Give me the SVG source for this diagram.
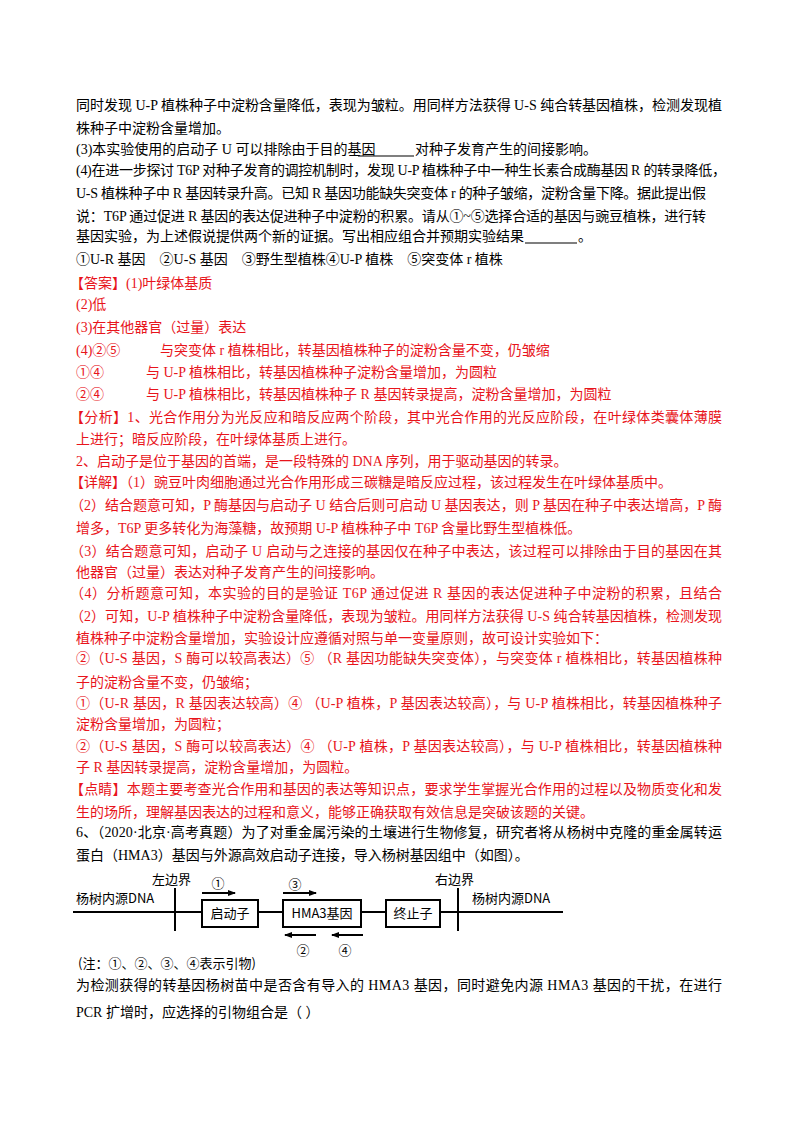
<svg xmlns="http://www.w3.org/2000/svg" width="800" height="1132" viewBox="0 0 800 1132">
<style>
text{font-family:"Liberation Serif","Noto Sans CJK SC",serif;font-size:14px;fill:#000}
.r{fill:#e8141b}
.d{font-family:"Noto Sans CJK SC","Liberation Sans",sans-serif;font-size:13px}
.ln{stroke:#000;stroke-width:2;fill:none}
.bx{stroke:#000;stroke-width:2;fill:#fff}
</style>
<defs><marker id="ah" markerWidth="8" markerHeight="8" refX="7" refY="4" orient="auto" markerUnits="userSpaceOnUse"><path d="M0,1 L8,4 L0,7 z" fill="#000"/></marker></defs>
<rect width="800" height="1132" fill="#fff"/>
<g id="text">
<text x="76" y="110" textLength="646" lengthAdjust="spacing">同时发现 U-P 植株种子中淀粉含量降低，表现为皱粒。用同样方法获得 U-S 纯合转基因植株，检测发现植</text>
<text x="76" y="133">株种子中淀粉含量增加。</text>
<text x="76" y="154">(3)本实验使用的启动子 U 可以排除由于目的基因</text>
<line x1="358" y1="156" x2="414" y2="156" stroke="#000" stroke-width="1.2"/>
<text x="415" y="154">对种子发育产生的间接影响。</text>
<text x="76" y="175" textLength="650" lengthAdjust="spacing">(4)在进一步探讨 T6P 对种子发育的调控机制时，发现 U-P 植株种子中一种生长素合成酶基因 R 的转录降低，</text>
<text x="76" y="198" textLength="630" lengthAdjust="spacing">U-S 植株种子中 R 基因转录升高。已知 R 基因功能缺失突变体 r 的种子皱缩，淀粉含量下降。据此提出假</text>
<text x="76" y="221" textLength="630" lengthAdjust="spacing">说：T6P 通过促进 R 基因的表达促进种子中淀粉的积累。请从①~⑤选择合适的基因与豌豆植株，进行转</text>
<text x="76" y="241">基因实验，为上述假说提供两个新的证据。写出相应组合并预期实验结果</text>
<line x1="525" y1="243" x2="577" y2="243" stroke="#000" stroke-width="1.2"/>
<text x="578" y="241">。</text>
<text x="76" y="264" xml:space="preserve">①U-R 基因    ②U-S 基因    ③野生型植株④U-P 植株    ⑤突变体 r 植株</text>
</g>
<g id="answer">
<text class="r" x="70" y="288">【答案】(1)叶绿体基质</text>
<text class="r" x="76" y="309">(2)低</text>
<text class="r" x="76" y="332">(3)在其他器官（过量）表达</text>
<text class="r" x="76" y="355">(4)②⑤</text>
<text class="r" x="160" y="355">与突变体 r 植株相比，转基因植株种子的淀粉含量不变，仍皱缩</text>
<text class="r" x="76" y="377">①④</text>
<text class="r" x="146" y="377">与 U-P 植株相比，转基因植株种子淀粉含量增加，为圆粒</text>
<text class="r" x="76" y="399">②④</text>
<text class="r" x="146" y="399">与 U-P 植株相比，转基因植株种子 R 基因转录提高，淀粉含量增加，为圆粒</text>
<text class="r" x="70" y="422" textLength="652" lengthAdjust="spacing">【分析】1、光合作用分为光反应和暗反应两个阶段，其中光合作用的光反应阶段，在叶绿体类囊体薄膜</text>
<text class="r" x="76" y="444">上进行；暗反应阶段，在叶绿体基质上进行。</text>
<text class="r" x="76" y="466">2、启动子是位于基因的首端，是一段特殊的 DNA 序列，用于驱动基因的转录。</text>
<text class="r" x="70" y="487">【详解】（1）豌豆叶肉细胞通过光合作用形成三碳糖是暗反应过程，该过程发生在叶绿体基质中。</text>
<text class="r" x="70" y="510" textLength="652" lengthAdjust="spacing">（2）结合题意可知，P 酶基因与启动子 U 结合后则可启动 U 基因表达，则 P 基因在种子中表达增高，P 酶</text>
<text class="r" x="76" y="533">增多，T6P 更多转化为海藻糖，故预期 U-P 植株种子中 T6P 含量比野生型植株低。</text>
<text class="r" x="70" y="556" textLength="652" lengthAdjust="spacing">（3）结合题意可知，启动子 U 启动与之连接的基因仅在种子中表达，该过程可以排除由于目的基因在其</text>
<text class="r" x="76" y="577">他器官（过量）表达对种子发育产生的间接影响。</text>
<text class="r" x="70" y="598" textLength="652" lengthAdjust="spacing">（4）分析题意可知，本实验的目的是验证 T6P 通过促进 R 基因的表达促进种子中淀粉的积累，且结合</text>
<text class="r" x="70" y="621" textLength="652" lengthAdjust="spacing">（2）可知，U-P 植株种子中淀粉含量降低，表现为皱粒。用同样方法获得 U-S 纯合转基因植株，检测发现</text>
<text class="r" x="76" y="643">植株种子中淀粉含量增加，实验设计应遵循对照与单一变量原则，故可设计实验如下：</text>
<text class="r" x="76" y="663" textLength="646" lengthAdjust="spacing">②（U-S 基因，S 酶可以较高表达）⑤ （R 基因功能缺失突变体），与突变体 r 植株相比，转基因植株种</text>
<text class="r" x="76" y="687">子的淀粉含量不变，仍皱缩；</text>
<text class="r" x="76" y="708" textLength="646" lengthAdjust="spacing">①（U-R 基因，R 基因表达较高）④ （U-P 植株，P 基因表达较高），与 U-P 植株相比，转基因植株种子</text>
<text class="r" x="76" y="729">淀粉含量增加，为圆粒；</text>
<text class="r" x="76" y="751" textLength="646" lengthAdjust="spacing">②（U-S 基因，S 酶可以较高表达）④ （U-P 植株，P 基因表达较高），与 U-P 植株相比，转基因植株种</text>
<text class="r" x="76" y="772">子 R 基因转录提高，淀粉含量增加，为圆粒。</text>
<text class="r" x="70" y="794" textLength="652" lengthAdjust="spacing">【点睛】本题主要考查光合作用和基因的表达等知识点，要求学生掌握光合作用的过程以及物质变化和发</text>
<text class="r" x="76" y="817">生的场所，理解基因表达的过程和意义，能够正确获取有效信息是突破该题的关键。</text>
<text x="76" y="837" textLength="646" lengthAdjust="spacing">6、（2020·北京·高考真题）为了对重金属污染的土壤进行生物修复，研究者将从杨树中克隆的重金属转运</text>
<text x="76" y="860">蛋白（HMA3）基因与外源高效启动子连接，导入杨树基因组中（如图）。</text>
</g>
<g id="connectors">
<line class="ln" x1="73" y1="912" x2="563" y2="912"/>
<line class="ln" x1="175" y1="888" x2="175" y2="931" stroke-width="3"/>
<line class="ln" x1="458" y1="888" x2="458" y2="931" stroke-width="3"/>
<line class="ln" x1="202" y1="893" x2="235" y2="893" marker-end="url(#ah)"/>
<line class="ln" x1="283" y1="893" x2="316" y2="893" marker-end="url(#ah)"/>
<line class="ln" x1="316" y1="935" x2="285" y2="935" marker-end="url(#ah)"/>
<line class="ln" x1="363" y1="935" x2="332" y2="935" marker-end="url(#ah)"/>
</g>
<g id="promoter"><rect class="bx" x="202" y="900" width="56" height="27"/><text class="d" x="230" y="918" text-anchor="middle">启动子</text></g>
<g id="hma3"><rect class="bx" x="283" y="900" width="78" height="27"/><text class="d" x="322" y="918" text-anchor="middle" fill="#444">HMA3基因</text></g>
<g id="terminator"><rect class="bx" x="386" y="900" width="54" height="27"/><text class="d" x="413" y="918" text-anchor="middle" fill="#444">终止子</text></g>
<g id="labels">
<text class="d" x="76" y="903">杨树内源DNA</text>
<text class="d" x="472" y="903">杨树内源DNA</text>
<text class="d" x="152" y="884">左边界</text>
<text class="d" x="435" y="884">右边界</text>
<text class="d" x="218" y="888" text-anchor="middle">①</text>
<text class="d" x="295" y="889" text-anchor="middle">③</text>
<text class="d" x="303" y="955" text-anchor="middle">②</text>
<text class="d" x="345" y="955" text-anchor="middle">④</text>
<text class="d" x="78" y="968">(注：①、②、③、④表示引物)</text>
</g>
<text x="76" y="990" textLength="646" lengthAdjust="spacing">为检测获得的转基因杨树苗中是否含有导入的 HMA3 基因，同时避免内源 HMA3 基因的干扰，在进行</text>
<text x="76" y="1017">PCR 扩增时，应选择的引物组合是（    ）</text>
</svg>
